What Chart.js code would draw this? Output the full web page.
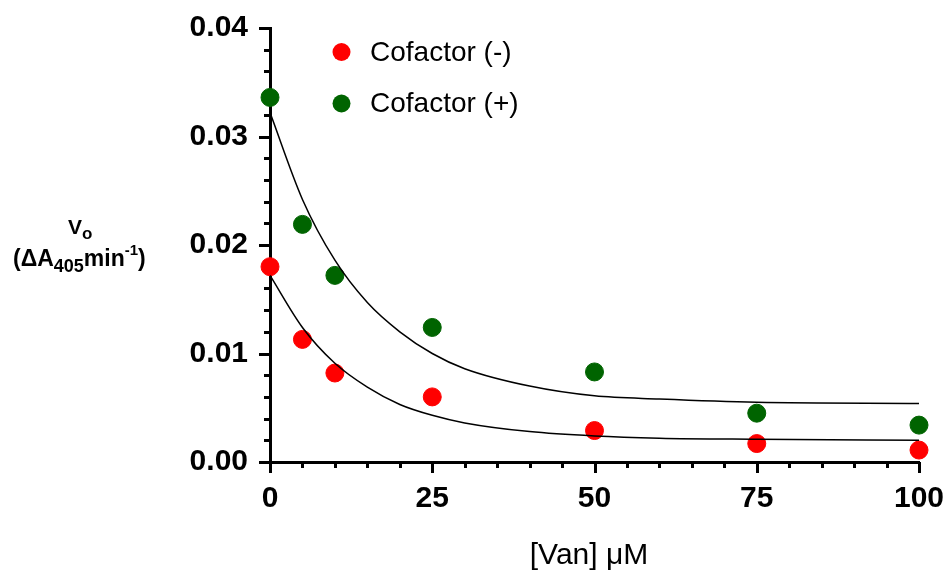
<!DOCTYPE html>
<html>
<head>
<meta charset="utf-8">
<script src="https://cdn.jsdelivr.net/npm/chart.js@4"></script>
<style>
  html, body { margin: 0; padding: 0; background: #fff; }
  #chart { display: block; }
</style>
</head>
<body>
<canvas id="chart" width="950" height="578" style="width:950px;height:578px"></canvas>
<script>
// measured concentrations and rates
const vanConc      = [0, 5, 10, 25, 50, 75, 100];
const rateMinus    = [0.0180, 0.0113, 0.0082, 0.0060, 0.0029, 0.0017, 0.0011];
const ratePlus     = [0.0336, 0.0219, 0.0172, 0.0124, 0.0083, 0.0045, 0.0034];

// fitted curves
const fitConc      = [0, 5, 10, 15, 20, 25, 30, 40, 50, 60, 75, 100];
const fitMinus     = [0.0172, 0.0124, 0.0091, 0.0069, 0.0053, 0.0043, 0.0036, 0.0028, 0.0024, 0.0022, 0.0021, 0.0020];
const fitPlus      = [0.0322, 0.0242, 0.0186, 0.0147, 0.0120, 0.0100, 0.0086, 0.0070, 0.0061, 0.0058, 0.0055, 0.0054];

const seriesLabels = ['Cofactor (-)', 'Cofactor (+)'];
const xMajor       = [0, 25, 50, 75, 100];
const yMajor       = [0, 0.01, 0.02, 0.03, 0.04];

const red   = '#FF0000';
const green = '#006400';
const font  = "'Liberation Sans', Arial, sans-serif";

const pts = (xs, ys) => xs.map((x, i) => ({ x: x, y: ys[i] }));
const isMajor = (list, v) => list.some(m => Math.abs(m - v) < 1e-9);

// label overhang should not shrink the plot, the layout padding handles it
const noPad = s => {
    s.paddingLeft = 0; s.paddingRight = 0;
    s.paddingTop = 0;  s.paddingBottom = 0;
};

// ── tick marks, legend and axis titles ──
const decor = {
    id: 'decor',
    beforeDatasetsDraw(chart) {
        const ctx = chart.ctx;
        const xs = chart.scales.x, ys = chart.scales.y;
        const a = chart.chartArea;
        ctx.save();
        ctx.strokeStyle = '#000';
        ctx.lineWidth = 3;
        ctx.beginPath();
        xs.ticks.forEach(t => {
            const px = Math.round(xs.getPixelForValue(t.value)) + 0.5;
            const len = isMajor(xMajor, t.value) ? 11 : 6;
            ctx.moveTo(px, a.bottom);
            ctx.lineTo(px, a.bottom + len);
        });
        ys.ticks.forEach(t => {
            const py = Math.round(ys.getPixelForValue(t.value)) + 0.5;
            const len = isMajor(yMajor, t.value) ? 11 : 6;
            ctx.moveTo(a.left, py);
            ctx.lineTo(a.left - len, py);
        });
        ctx.stroke();
        ctx.restore();
    },
    afterDraw(chart) {
        const ctx = chart.ctx;
        ctx.save();

        // legend
        const legendColors = [red, green];
        ctx.textBaseline = 'middle';
        ctx.textAlign = 'left';
        ctx.font = '28px ' + font;
        seriesLabels.forEach((lab, i) => {
            const cy = 52 + i * 51.5;
            ctx.fillStyle = legendColors[i];
            ctx.beginPath();
            ctx.arc(341.5, cy, 9, 0, Math.PI * 2);
            ctx.fill();
            ctx.fillStyle = '#000';
            ctx.fillText(lab, 370, cy + 1);
        });

        // x title
        ctx.textAlign = 'center';
        ctx.textBaseline = 'alphabetic';
        ctx.font = '30px ' + font;
        ctx.fillText('[Van] \u03BCM', 589, 564);

        // y title, with sub and superscripts
        ctx.textAlign = 'left';
        ctx.font = 'bold 21px ' + font;
        ctx.fillText('V', 68, 234);
        let w = ctx.measureText('V').width;
        ctx.font = 'bold 17px ' + font;
        ctx.fillText('o', 68 + w, 239);

        const parts = [
            ['(\u0394A', 23, 266],
            ['405', 18, 272],
            ['min', 23, 266],
            ['-1', 15, 255],
            [')', 23, 266]
        ];
        let x = 13;
        parts.forEach(p => {
            ctx.font = 'bold ' + p[1] + 'px ' + font;
            ctx.fillText(p[0], x, p[2]);
            x += ctx.measureText(p[0]).width;
        });
        ctx.restore();
    }
};

new Chart(document.getElementById('chart'), {
    type: 'scatter',
    data: {
        datasets: [
            {
                label: seriesLabels[0] + ' fit',
                data: pts(fitConc, fitMinus),
                showLine: true,
                borderColor: '#000',
                borderWidth: 1.5,
                pointRadius: 0,
                cubicInterpolationMode: 'monotone',
                order: 0,
            },
            {
                label: seriesLabels[1] + ' fit',
                data: pts(fitConc, fitPlus),
                showLine: true,
                borderColor: '#000',
                borderWidth: 1.5,
                pointRadius: 0,
                cubicInterpolationMode: 'monotone',
                order: 0,
            },
            {
                label: seriesLabels[0],
                data: pts(vanConc, rateMinus),
                backgroundColor: red,
                borderColor: red,
                pointRadius: 9,
                clip: false,
                order: 1,
            },
            {
                label: seriesLabels[1],
                data: pts(vanConc, ratePlus),
                backgroundColor: green,
                borderColor: green,
                pointRadius: 9,
                clip: false,
                order: 1,
            },
        ]
    },
    options: {
        responsive: false,
        animation: false,
        devicePixelRatio: 1,
        layout: { padding: { top: 28, right: 31, left: 0, bottom: 0 } },
        plugins: {
            legend: { display: false },
            tooltip: { enabled: false },
        },
        scales: {
            x: {
                type: 'linear',
                min: 0,
                max: 100,
                grid: { display: false, drawTicks: false },
                border: { display: true, color: '#000', width: 3 },
                ticks: {
                    stepSize: 5,
                    autoSkip: false,
                    maxRotation: 0,
                    padding: 19,
                    color: '#000',
                    font: { family: font, size: 30, weight: 'bold' },
                    callback: v => isMajor(xMajor, v) ? String(v) : '',
                },
                afterFit: s => { s.height = 116; noPad(s); },
            },
            y: {
                min: 0,
                max: 0.04,
                grid: { display: false, drawTicks: false },
                border: { display: true, color: '#000', width: 3 },
                ticks: {
                    stepSize: 0.002,
                    autoSkip: false,
                    padding: 22,
                    color: '#000',
                    font: { family: font, size: 30, weight: 'bold' },
                    callback: v => isMajor(yMajor, v) ? v.toFixed(2) : '',
                },
                afterFit: s => { s.width = 270; noPad(s); },
            }
        }
    },
    plugins: [decor]
});
</script>
</body>
</html>
